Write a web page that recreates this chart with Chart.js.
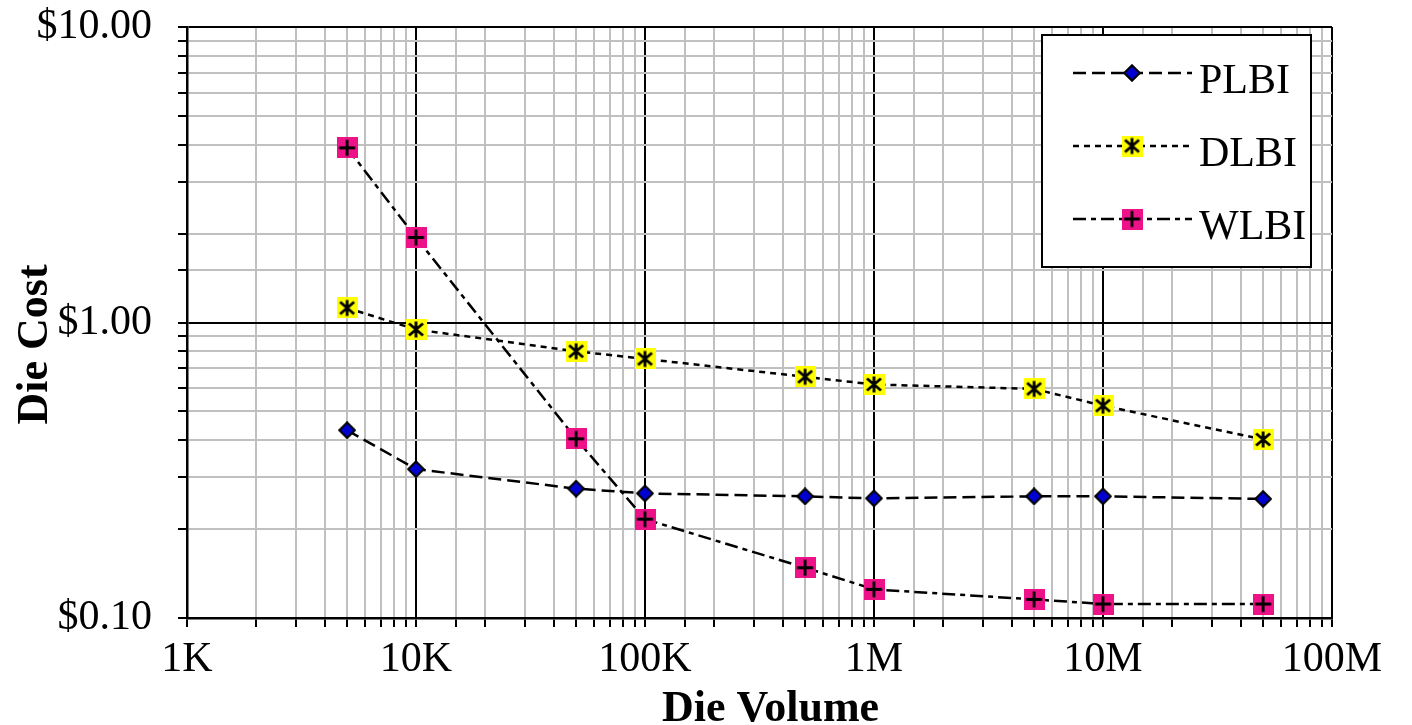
<!DOCTYPE html>
<html>
<head>
<meta charset="utf-8">
<script src="https://cdn.jsdelivr.net/npm/chart.js@4.4.1/dist/chart.umd.min.js"></script>
<style>
  body { margin: 0; background: #fff; }
</style>
</head>
<body>
<canvas id="miGrafica" width="1412" height="725"></canvas>
<script>
// datos
const volumen = [5e3, 1e4, 5e4, 1e5, 5e5, 1e6, 5e6, 1e7, 5e7];
const costo_plbi = [0.432, 0.319, 0.274, 0.264, 0.258, 0.254, 0.258, 0.258, 0.253];
const costo_dlbi = [1.12, 0.947, 0.799, 0.753, 0.655, 0.617, 0.596, 0.523, 0.402];
const costo_wlbi = [3.90, 1.94, 0.404, 0.216, 0.148, 0.125, 0.1156, 0.1115, 0.1115];
const nombres = ['PLBI', 'DLBI', 'WLBI'];
const etiquetas_x = ['1K', '10K', '100K', '1M', '10M', '100M'];
const etiquetas_y = ['$0.10', '$1.00', '$10.00'];
const titulo_x = 'Die Volume';
const titulo_y = 'Die Cost';

const fuente = '"Liberation Serif", "Times New Roman", serif';

const esPotencia = (v) => Math.abs(Math.log10(v) - Math.round(Math.log10(v))) < 1e-6;

// marcadores dibujados en canvas chicos
const marcador = (tipo) => {
    const c = document.createElement('canvas');
    const g = c.getContext('2d');
    if (tipo === 'rombo') {
        c.width = 18; c.height = 18;
        g.beginPath();
        g.moveTo(9, 1.2); g.lineTo(16.8, 9); g.lineTo(9, 16.8); g.lineTo(1.2, 9); g.closePath();
        g.fillStyle = '#0000D0';
        g.fill();
        g.lineWidth = 2;
        g.strokeStyle = '#000';
        g.stroke();
    } else {
        c.width = 21; c.height = 21;
        g.fillStyle = tipo === 'asterisco' ? '#FFFF00' : '#EE1289';
        g.fillRect(0, 0, 21, 21);
        g.strokeStyle = '#000';
        g.lineWidth = 2.8;
        g.beginPath();
        if (tipo === 'asterisco') {
            g.moveTo(10.5, 2.5); g.lineTo(10.5, 18.5);
            g.moveTo(3.5, 4.5); g.lineTo(17.5, 16.5);
            g.moveTo(17.5, 4.5); g.lineTo(3.5, 16.5);
        } else {
            g.moveTo(2.5, 10.5); g.lineTo(18.5, 10.5);
            g.moveTo(10.5, 2.5); g.lineTo(10.5, 18.5);
        }
        g.stroke();
    }
    return c;
};

const estilos = [
    {dash: [13, 6], punto: marcador('rombo')},
    {dash: [6, 5], punto: marcador('asterisco')},
    {dash: [13, 5, 5, 5], punto: marcador('cruz')},
];
const series = [costo_plbi, costo_dlbi, costo_wlbi];

const datasets = series.map((valores, i) => ({
    label: nombres[i],
    data: volumen.map((v, j) => ({x: v, y: valores[j]})),
    borderColor: '#000',
    borderWidth: 2.5,
    borderDash: estilos[i].dash,
    pointStyle: estilos[i].punto,
    pointRadius: 10,
    tension: 0,
    fill: false,
}));

// leyenda dentro del area de la grafica y titulos de los ejes
const leyenda = {
    id: 'leyenda',
    afterDraw(chart) {
        const {ctx, chartArea} = chart;
        const bx = chartArea.right - 290, by = chartArea.top + 8, bw = 269, bh = 232;
        ctx.save();
        ctx.fillStyle = '#fff';
        ctx.fillRect(bx, by, bw, bh);
        ctx.strokeStyle = '#000';
        ctx.lineWidth = 2;
        ctx.strokeRect(bx, by, bw, bh);
        chart.data.datasets.forEach((ds, i) => {
            const y = by + 38 + i * 73;
            ctx.setLineDash(ds.borderDash);
            ctx.lineWidth = 2.5;
            ctx.beginPath();
            ctx.moveTo(bx + 31, y);
            ctx.lineTo(bx + 150, y);
            ctx.stroke();
            ctx.setLineDash([]);
            const p = ds.pointStyle;
            ctx.drawImage(p, bx + 90 - p.width / 2, y - p.height / 2);
            ctx.fillStyle = '#000';
            ctx.font = '42px ' + fuente;
            ctx.textBaseline = 'alphabetic';
            ctx.fillText(ds.label, bx + 157, y + 20);
        });
        ctx.font = 'bold 44px ' + fuente;
        ctx.textAlign = 'center';
        ctx.textBaseline = 'alphabetic';
        ctx.fillText(titulo_x, (chartArea.left + chartArea.right) / 2 + 11, 721);
        ctx.translate(47, (chartArea.top + chartArea.bottom) / 2 + 22);
        ctx.rotate(-Math.PI / 2);
        ctx.fillText(titulo_y, 0, 0);
        ctx.restore();
    }
};

const colorRejilla = (c) => (c.tick && esPotencia(c.tick.value)) ? '#000' : '#C0C0C0';

const canva_grafica = document.getElementById('miGrafica').getContext('2d');
const grafica = new Chart(canva_grafica, {
    type: 'line',
    data: {datasets: datasets},
    options: {
        responsive: false,
        animation: false,
        devicePixelRatio: 1,
        layout: {padding: {top: 27, right: 80, left: 0, bottom: 0}},
        plugins: {legend: {display: false}, tooltip: {enabled: false}},
        scales: {
            x: {
                type: 'logarithmic',
                min: 1000,
                max: 1e8,
                afterFit: (s) => { s.height = 107; },
                grid: {color: colorRejilla, lineWidth: 2, tickColor: '#000', tickLength: 9},
                border: {color: '#000', width: 2.5},
                ticks: {
                    autoSkip: false,
                    maxRotation: 0,
                    padding: 8,
                    color: '#000',
                    font: {family: fuente, size: 42},
                    callback: (v) => esPotencia(v) ? etiquetas_x[Math.round(Math.log10(v)) - 3] : '',
                },
            },
            y: {
                type: 'logarithmic',
                min: 0.1,
                max: 10,
                afterFit: (s) => { s.width = 187; s.paddingTop = 0; s.paddingBottom = 0; },
                grid: {color: colorRejilla, lineWidth: 2, tickColor: '#000', tickLength: 9},
                border: {color: '#000', width: 2.5},
                ticks: {
                    autoSkip: false,
                    padding: 26,
                    color: '#000',
                    font: {family: fuente, size: 42},
                    callback: (v) => esPotencia(v) ? etiquetas_y[Math.round(Math.log10(v)) + 1] : '',
                },
            },
        },
    },
    plugins: [leyenda],
});
</script>
</body>
</html>
